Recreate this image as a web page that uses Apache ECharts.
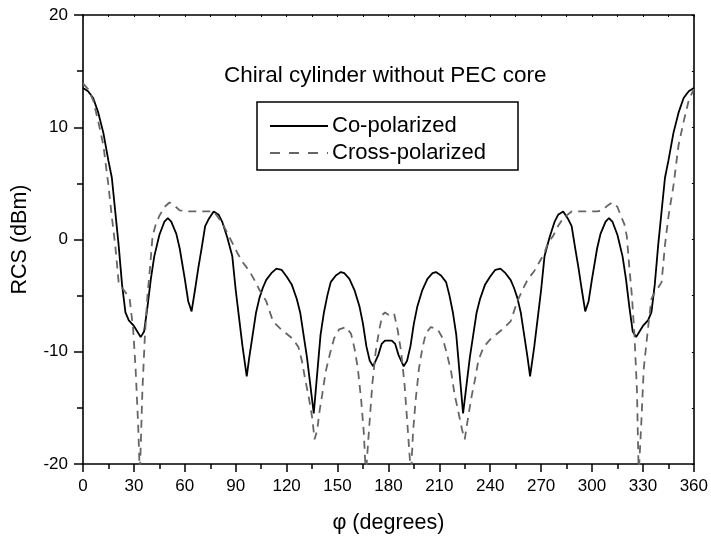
<!DOCTYPE html>
<html>
<head>
<meta charset="utf-8">
<script src="https://cdn.jsdelivr.net/npm/echarts@6/dist/echarts.min.js"></script>
<style>
html,body{margin:0;padding:0;background:#fff;}
#chart{width:711px;height:539px;}
</style>
</head>
<body>
<div id="chart"></div>
<script>
var titleText = 'Chiral cylinder without PEC core';
var xName = '\u03c6 (degrees)';
var yName = 'RCS (dBm)';
var seriesNames = ['Co-polarized', 'Cross-polarized'];
var xTicks = [0, 30, 60, 90, 120, 150, 180, 210, 240, 270, 300, 330, 360];
var yTicks = [-20, -10, 0, 10, 20];

var coAngles = [0, 3, 6, 9, 12, 15, 17, 19, 21, 23, 25, 27, 30, 32, 34, 36, 38, 40, 42, 45, 48, 50, 52, 55, 57, 60, 62, 64, 66, 68, 70, 72, 74, 77, 80, 82, 85, 88, 90, 92, 94, 96.5, 98, 100, 102, 104, 106, 108, 111, 114, 117, 120, 123, 126, 128, 130, 132, 134, 136, 138, 140, 142, 144, 146, 149, 152, 154, 157, 160, 163, 165, 167, 169, 171, 174, 176, 178, 180,
  182, 184, 186, 189, 191, 193, 195, 197, 200, 203, 206, 208, 211, 214, 216, 218, 220, 222, 224, 226, 228, 230, 232, 234, 237, 240, 243, 246, 249, 252, 254, 256, 258, 260, 262, 263.5, 266, 268, 270, 272, 275, 278, 280, 283, 286, 288, 290, 292, 294, 296, 298, 300, 303, 305, 308, 310, 312, 315, 318, 320, 322, 324, 326, 328, 330, 333, 335, 337, 339, 341, 343, 345, 348, 351, 354, 357, 360];
var coValues = [13.5, 13.2, 12.6, 11.3, 9.5, 7.0, 5.5, 2.5, -0.5, -4.0, -6.5, -7.2, -7.7, -8.2, -8.7, -8.2, -6.0, -3.5, -1.5, 0.4, 1.6, 1.9, 1.6, 0.5, -0.8, -3.5, -5.5, -6.4, -4.5, -2.5, -0.7, 1.2, 1.8, 2.5, 2.2, 1.6, 0.2, -1.5, -4.5, -7.0, -9.5, -12.2, -10.5, -8.5, -6.5, -5.2, -4.3, -3.6, -3.0, -2.6, -2.7, -3.3, -4.0, -5.3, -6.5, -8.5, -10.5, -13.0, -15.5, -12.0, -8.5, -6.5, -5.0, -3.8, -3.2, -2.9, -3.0, -3.5, -4.5, -6.0, -7.5, -9.5, -10.8, -11.3, -10.3, -9.3, -9.0, -9.0,
  -9.0, -9.3, -10.3, -11.3, -10.8, -9.5, -7.5, -6.0, -4.5, -3.5, -3.0, -2.9, -3.2, -3.8, -5.0, -6.5, -8.5, -12.0, -15.5, -13.0, -10.5, -8.5, -6.5, -5.3, -4.0, -3.3, -2.7, -2.6, -3.0, -3.6, -4.3, -5.2, -6.5, -8.5, -10.5, -12.2, -9.5, -7.0, -4.5, -1.5, 0.2, 1.6, 2.2, 2.5, 1.8, 1.2, -0.7, -2.5, -4.5, -6.4, -5.5, -3.5, -0.8, 0.5, 1.6, 1.9, 1.6, 0.4, -1.5, -3.5, -6.0, -8.2, -8.7, -8.2, -7.7, -7.2, -6.5, -4.0, -0.5, 2.5, 5.5, 7.0, 9.5, 11.3, 12.6, 13.2, 13.5];

var crossAngles = [0, 3, 6, 9, 12, 15, 17, 19, 21, 23, 25, 27.5, 29.5, 31, 32.5, 33.5, 35, 36.5, 38, 39.5, 41, 43, 45, 48, 51, 54, 57, 62, 67, 72, 77, 80, 83, 86, 88, 91, 94, 98, 101, 104, 108, 112, 116, 120, 124, 127, 129, 131, 133, 135, 136.5, 138, 139.5, 141, 143, 145.5, 148, 151, 155, 158, 160, 162, 164, 165.5, 166.7, 168.5, 170.5, 172.5, 174.5, 176.5, 178, 180,
  182, 183.5, 185.5, 187.5, 189.5, 191.5, 193.3, 194.5, 196, 198, 200, 202, 205, 209, 212, 214.5, 217, 219, 221, 223.5, 225, 227, 229, 231, 233, 236, 240, 244, 248, 252, 256, 259, 262, 266, 269, 272, 274, 277, 280, 283, 288, 293, 298, 303, 306, 309, 312, 315, 317, 319, 320.5, 322, 323.5, 325, 326.5, 327.5, 329, 330.5, 333, 335, 337, 339, 341, 343, 345, 348, 351, 354, 357, 360];
var crossValues = [13.9, 13.4, 12.4, 10.5, 8.4, 4.8, 2.0, -0.5, -3.8, -4.3, -4.7, -5.3, -7.9, -11.5, -16.5, -21, -13.5, -8.5, -5.0, -2.5, 0.3, 1.4, 2.1, 2.9, 3.3, 3.0, 2.6, 2.5, 2.5, 2.5, 2.5, 1.9, 1.2, 0.3, -0.3, -1.2, -2.0, -2.8, -3.6, -4.5, -5.5, -7.3, -7.9, -8.4, -8.9, -9.6, -10.8, -12.5, -14.0, -15.8, -17.8, -17.0, -15.2, -13.8, -11.8, -10.2, -8.8, -8.0, -7.8, -8.4, -9.7, -11.5, -14.4, -17.2, -21, -17.1, -12.9, -10.0, -8.1, -6.7, -6.5, -6.7,
  -6.5, -6.7, -8.1, -10.0, -12.9, -17.1, -21, -17.2, -14.4, -11.5, -9.7, -8.4, -7.8, -8.0, -8.8, -10.2, -11.8, -13.8, -15.2, -17.0, -17.8, -15.8, -14.0, -12.5, -10.8, -9.6, -8.9, -8.4, -7.9, -7.3, -5.5, -4.5, -3.6, -2.8, -2.0, -1.2, -0.3, 0.3, 1.2, 1.9, 2.5, 2.5, 2.5, 2.5, 2.6, 3.0, 3.3, 2.9, 2.1, 1.4, 0.3, -2.5, -5.0, -8.5, -13.5, -21, -16.5, -11.5, -7.9, -5.3, -4.7, -4.3, -3.8, -0.5, 2.0, 4.8, 8.4, 10.5, 12.4, 13.4, 13.9];

function zip(a, b) { var r = []; for (var i = 0; i < a.length; i++) r.push([a[i], b[i]]); return r; }

var FONT = 'Liberation Sans, Arial, Helvetica, sans-serif';
var CO_COLOR = '#000';
var CROSS_COLOR = '#666';
var chart = echarts.init(document.getElementById('chart'), null, {renderer: 'canvas'});
var axisLine = {show: true, onZero: false, lineStyle: {color: '#000', width: 1.6}};
var option = {
  animation: false,
  backgroundColor: '#fff',
  textStyle: {fontFamily: FONT},
  title: {
    text: titleText, left: 219, top: 59,
    textStyle: {fontFamily: FONT, fontSize: 22.5, fontWeight: 'normal', color: '#000'}
  },
  graphic: [
    {type: 'rect', shape: {x: 257, y: 102, width: 261, height: 68}, style: {fill: '#fff', stroke: '#000', lineWidth: 1.5}, z: 10},
    {type: 'line', shape: {x1: 270, y1: 126, x2: 328, y2: 126}, style: {stroke: CO_COLOR, lineWidth: 1.8}, z: 11},
    {type: 'line', shape: {x1: 270, y1: 153, x2: 328, y2: 153}, style: {stroke: CROSS_COLOR, lineWidth: 1.8, lineDash: [10, 9]}, z: 11},
    {type: 'text', x: 332, y: 126, style: {text: seriesNames[0], fill: '#000', font: '22px ' + FONT, textVerticalAlign: 'middle', verticalAlign: 'middle'}, z: 11},
    {type: 'text', x: 332, y: 153, style: {text: seriesNames[1], fill: '#000', font: '22px ' + FONT, textVerticalAlign: 'middle', verticalAlign: 'middle'}, z: 11}
  ],
  grid: {left: 83, top: 15, width: 614, height: 452, containLabel: false},
  xAxis: [{
    type: 'value', min: xTicks[0], max: xTicks[xTicks.length - 1], interval: 30,
    name: xName, nameLocation: 'middle', nameGap: 48,
    nameTextStyle: {fontFamily: FONT, fontSize: 21.5, color: '#000'},
    axisLine: axisLine,
    axisTick: {show: true, inside: false, length: 8, lineStyle: {color: '#000', width: 1.5}},
    minorTick: {show: true, splitNumber: 2, length: 5, lineStyle: {color: '#000', width: 1.5}},
    axisLabel: {fontFamily: FONT, fontSize: 17, color: '#000', margin: 14},
    splitLine: {show: false}
  }, {
    type: 'value', position: 'top', min: 0, max: 360, interval: 30,
    axisLine: axisLine,
    axisTick: {show: true, inside: true, length: 2, lineStyle: {color: '#000', width: 1}},
    minorTick: {show: true, splitNumber: 2, length: 2, lineStyle: {color: '#000', width: 1}},
    axisLabel: {show: false}, splitLine: {show: false}
  }],
  yAxis: [{
    type: 'value', min: yTicks[0], max: yTicks[yTicks.length - 1], interval: 10,
    name: yName, nameLocation: 'middle', nameGap: 52, nameRotate: 90,
    nameTextStyle: {fontFamily: FONT, fontSize: 21.5, color: '#000'},
    axisLine: axisLine,
    axisTick: {show: true, inside: false, length: 9, lineStyle: {color: '#000', width: 1.5}},
    minorTick: {show: true, splitNumber: 2, length: 6, lineStyle: {color: '#000', width: 1.5}},
    axisLabel: {fontFamily: FONT, fontSize: 17, color: '#000', margin: 15},
    splitLine: {show: false}
  }, {
    type: 'value', position: 'right', min: -20, max: 20, interval: 10,
    axisLine: axisLine,
    axisTick: {show: true, inside: true, length: 2, lineStyle: {color: '#000', width: 1}},
    minorTick: {show: true, splitNumber: 2, length: 2, lineStyle: {color: '#000', width: 1}},
    axisLabel: {show: false}, splitLine: {show: false}
  }],
  series: [{
    name: seriesNames[0], type: 'line', data: zip(coAngles, coValues),
    showSymbol: false, symbol: 'none', clip: true,
    lineStyle: {color: CO_COLOR, width: 1.8, type: 'solid'},
    itemStyle: {color: CO_COLOR}
  }, {
    name: seriesNames[1], type: 'line', data: zip(crossAngles, crossValues),
    showSymbol: false, symbol: 'none', clip: true,
    lineStyle: {color: CROSS_COLOR, width: 1.8, type: [8, 6]},
    itemStyle: {color: CROSS_COLOR}
  }]
};
chart.setOption(option);
</script>
</body>
</html>
